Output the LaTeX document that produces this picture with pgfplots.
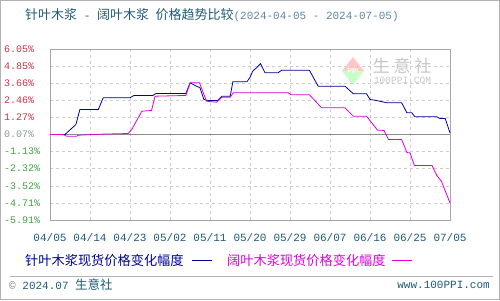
\documentclass[border=0pt]{standalone}
\usepackage{pgfplots}
\pgfplotsset{compat=1.18}
\usepackage{fontspec}
\setmainfont{Liberation Sans}
\setmonofont{Liberation Mono}
\newfontfamily\cjk{Noto Sans CJK SC}
\definecolor{ttl}{HTML}{1F5A78}
\definecolor{ttlb}{HTML}{5F87A0}
\definecolor{posr}{HTML}{CC3344}
\definecolor{negg}{HTML}{44A044}
\definecolor{zerog}{HTML}{8A9A9A}
\definecolor{navyl}{HTML}{000099}
\definecolor{magl}{HTML}{DD00DD}
\begin{document}
\begin{tikzpicture}[x=1pt,y=1pt]
\useasboundingbox (0,0) rectangle (500,300);
\draw[gray!60] (0.5,0.5) rectangle (499.5,299.5);
% title
\node[anchor=west,inner sep=0] at (25,285) {{\color{ttl}\cjk\fontsize{13}{14}\selectfont 针叶木浆{\ttfamily\fontsize{11}{12}\selectfont\ -\ }阔叶木浆{\ttfamily\fontsize{11}{12}\selectfont\ }价格趋势比较}{\ttfamily\fontsize{11}{12}\selectfont\color{ttlb}(2024-04-05 - 2024-07-05)}};
% watermark
\fill[red!22] (342,229)--(353,243)--(364,229)--cycle;
\fill[green!22] (342,229)--(353,215)--(364,229)--cycle;
\node[inner sep=0,text=white] at (353,229) {\fontsize{7}{8}\selectfont\bfseries PPI};
\node[inner sep=0,text=gray!45] at (402,234.5) {\cjk\fontsize{17}{18}\selectfont 生\hspace{4pt}意\hspace{4pt}社};
\node[inner sep=0,text=gray!45] at (402.5,219.5) {\ttfamily\fontsize{9.5}{10}\selectfont 100PPI.COM};
\begin{axis}[
  at={(50pt,80pt)}, anchor=south west,
  width=400pt, height=171pt, scale only axis,
  xmin=0, xmax=91, ymin=-5.91, ymax=6.05,
  axis line style={gray!70},
  major tick length=0pt,
  xtick={0,9.1,18.2,27.3,36.4,45.5,54.6,63.7,72.8,81.9,91},
  xticklabels={04/05,04/14,04/23,05/02,05/11,05/20,05/29,06/07,06/16,06/25,07/05},
  ytick={6.05,4.85,3.66,2.46,1.27,0.07,-1.13,-2.32,-3.52,-4.71,-5.91},
  yticklabels={{\color{posr}6.05\%},{\color{posr}4.85\%},{\color{posr}3.66\%},{\color{posr}2.46\%},{\color{posr}1.27\%},{\color{zerog}0.07\%},{\color{negg}-1.13\%},{\color{negg}-2.32\%},{\color{negg}-3.52\%},{\color{negg}-4.71\%},{\color{negg}-5.91\%}},
  xticklabel style={font=\ttfamily\fontsize{11}{12}\selectfont, text=ttl, yshift=-10pt},
  yticklabel style={font=\ttfamily\fontsize{10}{12}\selectfont, anchor=west, inner sep=0pt, xshift=-46pt},
  grid=major,
  major grid style={dashed, gray!40},
  extra y ticks={0.07}, extra y tick labels={},
  extra y tick style={major grid style={solid, gray!90}},
  clip=false,
]
\addplot[navyl, line width=0.8pt] coordinates {
(0,0.07) (3.4,0.07) (5.9,0.77) (6.8,1.82) (11,1.82) (12.1,2.64) (18.2,2.64) (19.1,2.80) (23.4,2.80) (24.1,2.94) (30.9,2.94) (31.9,3.69) (33.4,3.43) (34.1,3.36) (35.0,2.52) (35.9,2.45) (38.2,2.45) (39.1,2.75) (41.0,2.75) (41.6,3.76) (44.8,3.76) (45.5,4.06) (46.1,4.50) (47.0,4.74) (47.9,5.02) (48.9,4.39) (51.9,4.39) (52.7,4.57) (59.0,4.57) (61.0,3.45) (67.1,3.45) (69.0,2.92) (72.0,2.92) (72.8,2.52) (73.9,2.47) (76.6,2.29) (80.0,2.29) (81.2,1.59) (82.3,1.59) (83.0,1.31) (88.0,1.31) (88.7,1.19) (89.9,1.19) (91,0.19)
};
\addplot[magl, line width=0.8pt] coordinates {
(0,0.07) (3.0,0.07) (3.8,-0.05) (6.1,-0.05) (6.4,0.02) (11.4,0.09) (17.8,0.14) (18.6,0.42) (20.9,1.70) (23.1,1.75) (23.9,2.75) (30.9,2.80) (31.9,3.69) (34.0,3.69) (35.6,2.40) (37.9,2.33) (39.1,2.68) (41.0,2.68) (41.7,2.99) (54.2,2.99) (54.8,2.85) (59.0,2.85) (61.8,1.94) (67.1,1.94) (69.0,1.35) (72.0,1.35) (74.5,0.38) (76.0,0.35) (77.0,-0.28) (80.0,-0.28) (81.2,-1.19) (81.9,-1.22) (82.9,-2.10) (86.9,-2.10) (88.0,-2.80) (89.0,-3.17) (91,-4.71)
};
\end{axis}
% legend
\node[anchor=west,inner sep=0,text=navyl] at (25,39.3) {\cjk\fontsize{13.2}{14}\selectfont 针叶木浆现货价格变化幅度};
\draw[navyl, line width=0.8pt] (192,39.3) -- (212,39.3);
\node[anchor=west,inner sep=0,text=magl] at (227,39.3) {\cjk\fontsize{13.2}{14}\selectfont 阔叶木浆现货价格变化幅度};
\draw[magl, line width=0.8pt] (392,39.3) -- (412,39.3);
% footer
\draw[gray!60] (10,24.3) -- (493,24.3);
\node[anchor=west,inner sep=0,text=ttl] at (9,15) {{\ttfamily\fontsize{11}{12}\selectfont{\color{gray}©}~2024.07~}{\cjk\fontsize{12.5}{14}\selectfont 生意社}};
\node[anchor=east,inner sep=0,text=ttl] at (490,15) {\ttfamily\fontsize{11}{12}\selectfont www.100PPI.com};
\end{tikzpicture}
\end{document}
